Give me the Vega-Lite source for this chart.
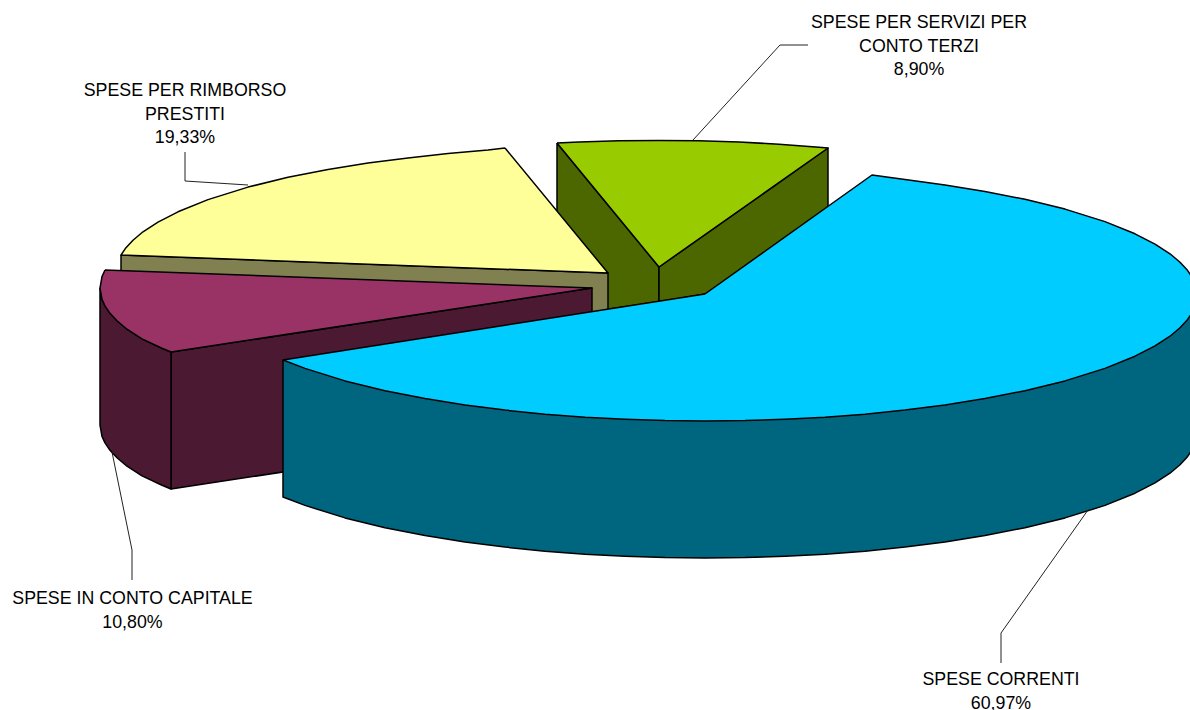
{"$schema":"https://vega.github.io/schema/vega-lite/v6.json","width":1190,"height":710,"padding":0,"autosize":{"type":"none"},"background":"white","view":{"stroke":null},
"datasets":{"shapes":[
{"part":"terzi-side-a","i":1,"x":557,"y":143},{"part":"terzi-side-a","i":2,"x":659,"y":267},{"part":"terzi-side-a","i":3,"x":659,"y":302},{"part":"terzi-side-a","i":4,"x":609,"y":309},{"part":"terzi-side-a","i":5,"x":557,"y":290},{"part":"terzi-side-a","i":6,"x":557,"y":143},
{"part":"terzi-side-b","i":1,"x":659,"y":267},{"part":"terzi-side-b","i":2,"x":828,"y":148},{"part":"terzi-side-b","i":3,"x":828,"y":212},{"part":"terzi-side-b","i":4,"x":705,"y":294},{"part":"terzi-side-b","i":5,"x":659,"y":302},{"part":"terzi-side-b","i":6,"x":659,"y":267},
{"part":"terzi-top","i":1,"x":557,"y":143},{"part":"terzi-top","i":2,"x":579,"y":142},{"part":"terzi-top","i":3,"x":619,"y":140.8},{"part":"terzi-top","i":4,"x":659,"y":140.4},{"part":"terzi-top","i":5,"x":699,"y":140.8},{"part":"terzi-top","i":6,"x":739,"y":142},{"part":"terzi-top","i":7,"x":779,"y":144.2},{"part":"terzi-top","i":8,"x":819,"y":147.2},{"part":"terzi-top","i":9,"x":828,"y":148},{"part":"terzi-top","i":10,"x":659,"y":267},{"part":"terzi-top","i":11,"x":557,"y":143},
{"part":"rimborso-side","i":1,"x":121,"y":255},{"part":"rimborso-side","i":2,"x":608,"y":273},{"part":"rimborso-side","i":3,"x":608,"y":310},{"part":"rimborso-side","i":4,"x":590,"y":313},{"part":"rimborso-side","i":5,"x":121,"y":275},{"part":"rimborso-side","i":6,"x":121,"y":255},
{"part":"rimborso-top","i":1,"x":505,"y":148},{"part":"rimborso-top","i":2,"x":488,"y":150},{"part":"rimborso-top","i":3,"x":448,"y":153.6},{"part":"rimborso-top","i":4,"x":408,"y":157.9},{"part":"rimborso-top","i":5,"x":368,"y":163},{"part":"rimborso-top","i":6,"x":328,"y":169.4},{"part":"rimborso-top","i":7,"x":288,"y":177.3},{"part":"rimborso-top","i":8,"x":248,"y":187.1},{"part":"rimborso-top","i":9,"x":208,"y":199.6},{"part":"rimborso-top","i":10,"x":178,"y":211.8},{"part":"rimborso-top","i":11,"x":158,"y":222.1},{"part":"rimborso-top","i":12,"x":143,"y":231.8},{"part":"rimborso-top","i":13,"x":133,"y":240.2},{"part":"rimborso-top","i":14,"x":126,"y":247.7},{"part":"rimborso-top","i":15,"x":121,"y":255},{"part":"rimborso-top","i":16,"x":608,"y":273},{"part":"rimborso-top","i":17,"x":505,"y":148},
{"part":"capitale-side-b","i":1,"x":171,"y":352},{"part":"capitale-side-b","i":2,"x":592,"y":288},{"part":"capitale-side-b","i":3,"x":592,"y":425},{"part":"capitale-side-b","i":4,"x":171,"y":489},{"part":"capitale-side-b","i":5,"x":171,"y":352},
{"part":"capitale-side-a","i":1,"x":100,"y":288},{"part":"capitale-side-a","i":2,"x":102,"y":299.4},{"part":"capitale-side-a","i":3,"x":105,"y":305.9},{"part":"capitale-side-a","i":4,"x":110,"y":313.3},{"part":"capitale-side-a","i":5,"x":117,"y":320.8},{"part":"capitale-side-a","i":6,"x":127,"y":329.2},{"part":"capitale-side-a","i":7,"x":142,"y":338.9},{"part":"capitale-side-a","i":8,"x":162,"y":348.2},{"part":"capitale-side-a","i":9,"x":171,"y":352},{"part":"capitale-side-a","i":10,"x":171,"y":489},{"part":"capitale-side-a","i":11,"x":162,"y":485.2},{"part":"capitale-side-a","i":12,"x":142,"y":475.9},{"part":"capitale-side-a","i":13,"x":127,"y":466.2},{"part":"capitale-side-a","i":14,"x":117,"y":457.8},{"part":"capitale-side-a","i":15,"x":110,"y":450.3},{"part":"capitale-side-a","i":16,"x":105,"y":442.9},{"part":"capitale-side-a","i":17,"x":102,"y":436.4},{"part":"capitale-side-a","i":18,"x":100,"y":425},{"part":"capitale-side-a","i":19,"x":100,"y":288},
{"part":"capitale-top","i":1,"x":105,"y":270},{"part":"capitale-top","i":2,"x":102,"y":276.6},{"part":"capitale-top","i":3,"x":100,"y":288},{"part":"capitale-top","i":4,"x":102,"y":299.4},{"part":"capitale-top","i":5,"x":105,"y":305.9},{"part":"capitale-top","i":6,"x":110,"y":313.3},{"part":"capitale-top","i":7,"x":117,"y":320.8},{"part":"capitale-top","i":8,"x":127,"y":329.2},{"part":"capitale-top","i":9,"x":142,"y":338.9},{"part":"capitale-top","i":10,"x":162,"y":348.2},{"part":"capitale-top","i":11,"x":171,"y":352},{"part":"capitale-top","i":12,"x":592,"y":288},{"part":"capitale-top","i":13,"x":105,"y":270},
{"part":"correnti-side","i":1,"x":283,"y":360},{"part":"correnti-side","i":2,"x":1197,"y":295},{"part":"correnti-side","i":3,"x":1197,"y":432},{"part":"correnti-side","i":4,"x":1195,"y":443.4},{"part":"correnti-side","i":5,"x":1192,"y":449.9},{"part":"correnti-side","i":6,"x":1187,"y":457.3},{"part":"correnti-side","i":7,"x":1180,"y":464.8},{"part":"correnti-side","i":8,"x":1170,"y":473.2},{"part":"correnti-side","i":9,"x":1155,"y":482.9},{"part":"correnti-side","i":10,"x":1135,"y":493.2},{"part":"correnti-side","i":11,"x":1105,"y":505.4},{"part":"correnti-side","i":12,"x":1065,"y":517.9},{"part":"correnti-side","i":13,"x":1025,"y":527.7},{"part":"correnti-side","i":14,"x":985,"y":535.6},{"part":"correnti-side","i":15,"x":945,"y":542},{"part":"correnti-side","i":16,"x":905,"y":547.1},{"part":"correnti-side","i":17,"x":865,"y":551.2},{"part":"correnti-side","i":18,"x":825,"y":554.2},{"part":"correnti-side","i":19,"x":785,"y":556.3},{"part":"correnti-side","i":20,"x":745,"y":557.6},{"part":"correnti-side","i":21,"x":705,"y":558},{"part":"correnti-side","i":22,"x":665,"y":557.6},{"part":"correnti-side","i":23,"x":625,"y":556.3},{"part":"correnti-side","i":24,"x":585,"y":554.2},{"part":"correnti-side","i":25,"x":545,"y":551.2},{"part":"correnti-side","i":26,"x":505,"y":547.1},{"part":"correnti-side","i":27,"x":465,"y":542},{"part":"correnti-side","i":28,"x":425,"y":535.6},{"part":"correnti-side","i":29,"x":385,"y":527.7},{"part":"correnti-side","i":30,"x":345,"y":517.9},{"part":"correnti-side","i":31,"x":305,"y":505.4},{"part":"correnti-side","i":32,"x":283,"y":497},{"part":"correnti-side","i":33,"x":283,"y":360},
{"part":"correnti-top","i":1,"x":705,"y":294},{"part":"correnti-top","i":2,"x":872,"y":175},{"part":"correnti-top","i":3,"x":905,"y":179.5},{"part":"correnti-top","i":4,"x":945,"y":185},{"part":"correnti-top","i":5,"x":985,"y":191.4},{"part":"correnti-top","i":6,"x":1025,"y":199.3},{"part":"correnti-top","i":7,"x":1065,"y":209.1},{"part":"correnti-top","i":8,"x":1105,"y":221.6},{"part":"correnti-top","i":9,"x":1135,"y":233.8},{"part":"correnti-top","i":10,"x":1155,"y":244.1},{"part":"correnti-top","i":11,"x":1170,"y":253.8},{"part":"correnti-top","i":12,"x":1180,"y":262.2},{"part":"correnti-top","i":13,"x":1187,"y":269.7},{"part":"correnti-top","i":14,"x":1192,"y":277.1},{"part":"correnti-top","i":15,"x":1195,"y":283.6},{"part":"correnti-top","i":16,"x":1197,"y":295},{"part":"correnti-top","i":17,"x":1195,"y":306.4},{"part":"correnti-top","i":18,"x":1192,"y":312.9},{"part":"correnti-top","i":19,"x":1187,"y":320.3},{"part":"correnti-top","i":20,"x":1180,"y":327.8},{"part":"correnti-top","i":21,"x":1170,"y":336.2},{"part":"correnti-top","i":22,"x":1155,"y":345.9},{"part":"correnti-top","i":23,"x":1135,"y":356.2},{"part":"correnti-top","i":24,"x":1105,"y":368.4},{"part":"correnti-top","i":25,"x":1065,"y":380.9},{"part":"correnti-top","i":26,"x":1025,"y":390.7},{"part":"correnti-top","i":27,"x":985,"y":398.6},{"part":"correnti-top","i":28,"x":945,"y":405},{"part":"correnti-top","i":29,"x":905,"y":410.1},{"part":"correnti-top","i":30,"x":865,"y":414.2},{"part":"correnti-top","i":31,"x":825,"y":417.2},{"part":"correnti-top","i":32,"x":785,"y":419.3},{"part":"correnti-top","i":33,"x":745,"y":420.6},{"part":"correnti-top","i":34,"x":705,"y":421},{"part":"correnti-top","i":35,"x":665,"y":420.6},{"part":"correnti-top","i":36,"x":625,"y":419.3},{"part":"correnti-top","i":37,"x":585,"y":417.2},{"part":"correnti-top","i":38,"x":545,"y":414.2},{"part":"correnti-top","i":39,"x":505,"y":410.1},{"part":"correnti-top","i":40,"x":465,"y":405},{"part":"correnti-top","i":41,"x":425,"y":398.6},{"part":"correnti-top","i":42,"x":385,"y":390.7},{"part":"correnti-top","i":43,"x":345,"y":380.9},{"part":"correnti-top","i":44,"x":305,"y":368.4},{"part":"correnti-top","i":45,"x":283,"y":360},{"part":"correnti-top","i":46,"x":705,"y":294}
],
"leaders":[
{"part":"terzi","i":1,"x":693,"y":140},{"part":"terzi","i":2,"x":780,"y":45},{"part":"terzi","i":3,"x":808,"y":45},
{"part":"rimborso","i":1,"x":185,"y":152},{"part":"rimborso","i":2,"x":185,"y":181},{"part":"rimborso","i":3,"x":248,"y":185},
{"part":"capitale","i":1,"x":112,"y":452},{"part":"capitale","i":2,"x":132,"y":550},{"part":"capitale","i":3,"x":132,"y":580},
{"part":"correnti","i":1,"x":1088,"y":510},{"part":"correnti","i":2,"x":1001,"y":633},{"part":"correnti","i":3,"x":1001,"y":663}
],
"labels":[
{"label":"SPESE PER SERVIZI PER\nCONTO TERZI\n8,90%","x":919,"y":28},
{"label":"SPESE PER RIMBORSO\nPRESTITI\n19,33%","x":185,"y":96},
{"label":"SPESE IN CONTO CAPITALE\n10,80%","x":132.5,"y":604},
{"label":"SPESE CORRENTI\n60,97%","x":1001,"y":685}
]},
"layer":[
{"data":{"name":"shapes"},"mark":{"type":"line","stroke":"black","strokeWidth":1.5,"strokeJoin":"round","clip":true},
"encoding":{"x":{"field":"x","type":"quantitative","scale":{"domain":[0,1190],"nice":false,"zero":false},"axis":null},
"y":{"field":"y","type":"quantitative","scale":{"domain":[710,0],"nice":false,"zero":false},"axis":null},
"detail":{"field":"part"},"order":{"field":"i"},
"fill":{"field":"part","type":"nominal","legend":null,"scale":{"domain":["terzi-side-a","terzi-side-b","terzi-top","rimborso-side","rimborso-top","capitale-side-b","capitale-side-a","capitale-top","correnti-side","correnti-top"],"range":["#4C6600","#4C6600","#99CC00","#808050","#FFFF99","#4C1933","#4C1933","#993366","#006680","#00CCFF"]}}}},
{"data":{"name":"leaders"},"mark":{"type":"line","stroke":"#222222","strokeWidth":1,"clip":true},
"encoding":{"x":{"field":"x","type":"quantitative","scale":{"domain":[0,1190],"nice":false,"zero":false},"axis":null},
"y":{"field":"y","type":"quantitative","scale":{"domain":[710,0],"nice":false,"zero":false},"axis":null},
"detail":{"field":"part"},"order":{"field":"i"}}},
{"data":{"name":"labels"},"mark":{"type":"text","font":"Liberation Sans","fontSize":17.8,"lineHeight":23.5,"lineBreak":"\n","align":"center","baseline":"alphabetic","color":"black"},
"encoding":{"x":{"field":"x","type":"quantitative","scale":{"domain":[0,1190],"nice":false,"zero":false},"axis":null},
"y":{"field":"y","type":"quantitative","scale":{"domain":[710,0],"nice":false,"zero":false},"axis":null},
"text":{"field":"label"}}}
]}
